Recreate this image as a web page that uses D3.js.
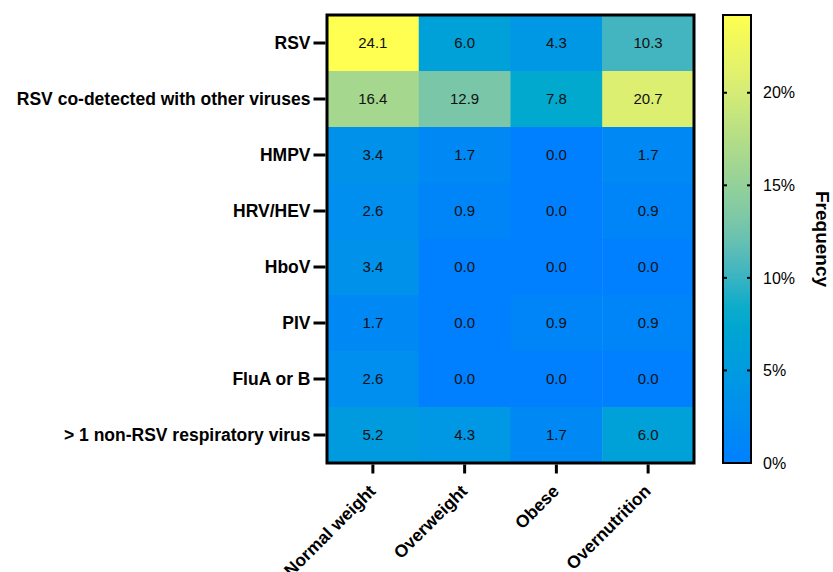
<!DOCTYPE html>
<html>
<head>
<meta charset="utf-8">
<script src="https://cdn.jsdelivr.net/npm/d3@7"></script>
<style>
  body { margin: 0; background: #fff; }
  svg text { font-family: "Liberation Sans", Arial, Helvetica, sans-serif; }
</style>
</head>
<body>
<svg id="chart" width="833" height="572"></svg>
<script>
// Detection frequency (%) of each virus group by weight category
const groups = ["Normal weight", "Overweight", "Obese", "Overnutrition"];
const viruses = ["RSV", "RSV co-detected with other viruses", "HMPV", "HRV/HEV",
                 "HboV", "PIV", "FluA or B", "> 1 non-RSV respiratory virus"];
const normalWeight  = [24.1, 16.4, 3.4, 2.6, 3.4, 1.7, 2.6, 5.2];
const overweight    = [6.0, 12.9, 1.7, 0.9, 0.0, 0.0, 0.0, 4.3];
const obese         = [4.3, 7.8, 0.0, 0.0, 0.0, 0.9, 0.0, 1.7];
const overnutrition = [10.3, 20.7, 1.7, 0.9, 0.0, 0.9, 0.0, 6.0];
const colorTicks = [0, 5, 10, 15, 20];

const seriesByGroup = [normalWeight, overweight, obese, overnutrition];
const cells = [];
viruses.forEach((v, i) => groups.forEach((g, j) =>
  cells.push({ virus: v, group: g, value: seriesByGroup[j][i] })));

const vmax = 24.2;
const plotLeft = 327, plotRight = 694, plotTop = 15, plotBottom = 463;

const svg = d3.select("#chart");

const x = d3.scaleBand().domain(groups).range([plotLeft, plotRight]);
const y = d3.scaleBand().domain(viruses).range([plotTop, plotBottom]);

// colour ramp: blue -> teal -> yellow
const stops = [
  [0.00, "#0080ff"], [0.18, "#0097e4"], [0.33, "#00aacc"], [0.43, "#45b5c0"],
  [0.53, "#78c6aa"], [0.68, "#a6d88e"], [0.85, "#dcee72"], [1.00, "#ffff50"]
];
const color = d3.scaleLinear()
  .domain(stops.map(s => s[0] * vmax))
  .range(stops.map(s => s[1]))
  .interpolate(d3.interpolateRgb)
  .clamp(true);

// cells
svg.append("g").selectAll("rect").data(cells).join("rect")
  .attr("x", d => x(d.group))
  .attr("y", d => y(d.virus))
  .attr("width", x.bandwidth() + 0.5)
  .attr("height", y.bandwidth() + 0.5)
  .attr("fill", d => color(d.value));

svg.append("g").selectAll("text").data(cells).join("text")
  .attr("x", d => x(d.group) + x.bandwidth() / 2)
  .attr("y", d => y(d.virus) + y.bandwidth() / 2)
  .attr("dy", "0.36em")
  .attr("text-anchor", "middle")
  .style("font-size", "15px")
  .attr("fill", "#111")
  .text(d => d.value.toFixed(1));

// frame
svg.append("rect")
  .attr("x", plotLeft).attr("y", plotTop)
  .attr("width", plotRight - plotLeft).attr("height", plotBottom - plotTop)
  .attr("fill", "none").attr("stroke", "#000").attr("stroke-width", 3);

// y axis
const yAxis = svg.append("g")
  .attr("transform", `translate(${plotLeft - 1.5},0)`)
  .call(d3.axisLeft(y).tickSize(12).tickPadding(3));
yAxis.select(".domain").remove();
yAxis.selectAll(".tick line").attr("stroke", "#000").attr("stroke-width", 3);
yAxis.selectAll(".tick text")
  .style("font-size", "17.5px").style("font-weight", "bold").attr("fill", "#000");

// x axis
const xAxis = svg.append("g")
  .attr("transform", `translate(0,${plotBottom + 1.5})`)
  .call(d3.axisBottom(x).tickSize(9).tickPadding(4));
xAxis.select(".domain").remove();
xAxis.selectAll(".tick line").attr("stroke", "#000").attr("stroke-width", 3);
xAxis.selectAll(".tick text")
  .style("font-size", "17.5px").style("font-weight", "bold").attr("fill", "#000")
  .attr("text-anchor", "end")
  .attr("dx", "-0.89em").attr("dy", "0.45em")
  .attr("transform", "translate(0,2) rotate(-45)");

// colour bar
const cbLeft = 723, cbRight = 751;
const cy = d3.scaleLinear().domain([0, vmax]).range([plotBottom, plotTop]);
const defs = svg.append("defs");
const grad = defs.append("linearGradient").attr("id", "cbar")
  .attr("x1", 0).attr("y1", 1).attr("x2", 0).attr("y2", 0);
d3.range(0, 1.0001, 0.05).forEach(t =>
  grad.append("stop").attr("offset", t).attr("stop-color", color(t * vmax)));
svg.append("rect")
  .attr("x", cbLeft).attr("y", plotTop)
  .attr("width", cbRight - cbLeft).attr("height", plotBottom - plotTop)
  .attr("fill", "url(#cbar)")
  .attr("stroke", "#000").attr("stroke-width", 2);

const cbAxis = svg.append("g")
  .attr("transform", `translate(${cbRight},0)`)
  .call(d3.axisRight(cy).tickValues(colorTicks).tickSize(0).tickPadding(12)
    .tickFormat(d => d + "%"));
cbAxis.select(".domain").remove();
cbAxis.selectAll(".tick text").style("font-size", "16px").attr("fill", "#000");
// inner tick marks on both sides of the bar
svg.append("g").selectAll("line").data(colorTicks.filter(d => d > 0)).join("line")
  .attr("x1", cbLeft).attr("x2", cbLeft + 4)
  .attr("y1", d => cy(d)).attr("y2", d => cy(d))
  .attr("stroke", "#000").attr("stroke-width", 2);
svg.append("g").selectAll("line").data(colorTicks.filter(d => d > 0)).join("line")
  .attr("x1", cbRight - 4).attr("x2", cbRight)
  .attr("y1", d => cy(d)).attr("y2", d => cy(d))
  .attr("stroke", "#000").attr("stroke-width", 2);

svg.append("text")
  .attr("transform", `translate(816,${(plotTop + plotBottom) / 2}) rotate(90)`)
  .attr("text-anchor", "middle")
  .style("font-size", "19px").style("font-weight", "bold")
  .text("Frequency");
</script>
</body>
</html>
